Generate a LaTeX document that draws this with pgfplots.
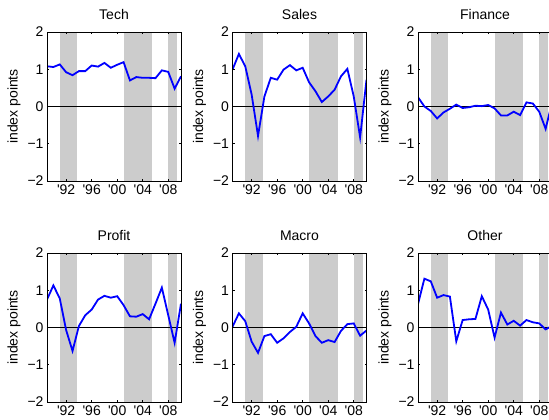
\documentclass[border=0pt]{standalone}
\usepackage{pgfplots}
\pgfplotsset{compat=1.18}
\usepackage{pgfplotstable}
\usepackage{fontspec}
\setmainfont{Liberation Sans}
\newcommand{\fs}{\fontsize{14}{16}\selectfont}

\pgfplotstableread{
year tech  sales  finance profit macro other
1989 1.08  0.99   0.25    0.75   0.02  0.63
1990 1.06  1.41   0.00    1.13   0.38  1.31
1991 1.13  1.08  -0.12    0.78   0.17  1.24
1992 0.92  0.32  -0.32   -0.07  -0.38  0.80
1993 0.84 -0.79  -0.16   -0.63  -0.68  0.87
1994 0.95  0.27  -0.06    0.04  -0.23  0.83
1995 0.95  0.77   0.05    0.33  -0.18 -0.37
1996 1.10  0.72  -0.04    0.48  -0.41  0.20
1997 1.07  0.99  -0.02    0.75  -0.29  0.22
1998 1.17  1.11   0.02    0.85  -0.12  0.23
1999 1.04  0.97   0.01    0.80   0.02  0.84
2000 1.12  1.04   0.04    0.84   0.38  0.48
2001 1.19  0.65  -0.05    0.60   0.11 -0.27
2002 0.70  0.41  -0.24    0.30  -0.23  0.40
2003 0.79  0.12  -0.24    0.29  -0.41  0.08
2004 0.77  0.27  -0.14    0.36  -0.34  0.18
2005 0.77  0.45  -0.23    0.22  -0.39  0.05
2006 0.76  0.81   0.11    0.64  -0.09  0.20
2007 0.97  1.01   0.08    1.07   0.09  0.14
2008 0.93  0.27  -0.14    0.33   0.11  0.11
2009 0.48 -0.83  -0.60   -0.41  -0.22 -0.05
2010 0.81  0.72   0.10    0.64  -0.08  0.04
}\datatable

\pgfplotsset{panel/.style={
  scale only axis, width=134pt, height=149pt,
  xmin=1989, xmax=2010, ymin=-2, ymax=2,
  xtick={1992,1996,2000,2004,2008},
  xticklabels={\textquotesingle92,\textquotesingle96,\textquotesingle00,\textquotesingle04,\textquotesingle08},
  ytick={-2,-1,0,1,2}, yticklabels={−2,−1,0,1,2},
  tick align=inside, major tick length=2pt,
  axis line style={line width=0.6pt},
  every tick/.style={black, line width=0.6pt},
  tick label style={font=\fs},
  title style={font=\fs, yshift=3pt},
  label style={font=\fs},
  ylabel={index points},
  axis on top, anchor=south west,
}}
\newcommand{\shades}{%
  \addplot[fill=black!20, draw=none] coordinates {(1991,-2)(1991,2)(1993.75,2)(1993.75,-2)};
  \addplot[fill=black!20, draw=none] coordinates {(2001,-2)(2001,2)(2005.5,2)(2005.5,-2)};
  \addplot[fill=black!20, draw=none] coordinates {(2008,-2)(2008,2)(2009.45,2)(2009.45,-2)};
  \addplot[black, line width=0.6pt] coordinates {(1989,0)(2010,0)};
}
\newcommand{\series}[1]{\addplot[blue, line width=1.8pt] table[x=year, y=#1] {\datatable};}

\begin{document}
\begin{tikzpicture}
\path[use as bounding box] (0,0) rectangle (549pt,420pt);
\begin{axis}[panel, at={(47pt,239pt)}, title={Tech}]
\shades \series{tech}
\end{axis}
\begin{axis}[panel, at={(232.5pt,239pt)}, title={Sales}]
\shades \series{sales}
\end{axis}
\begin{axis}[panel, at={(418pt,239pt)}, title={Finance}]
\shades \series{finance}
\end{axis}
\begin{axis}[panel, at={(47pt,18pt)}, title={Profit}]
\shades \series{profit}
\end{axis}
\begin{axis}[panel, at={(232.5pt,18pt)}, title={Macro}]
\shades \series{macro}
\end{axis}
\begin{axis}[panel, at={(418pt,18pt)}, title={Other}]
\shades \series{other}
\end{axis}
\end{tikzpicture}
\end{document}
